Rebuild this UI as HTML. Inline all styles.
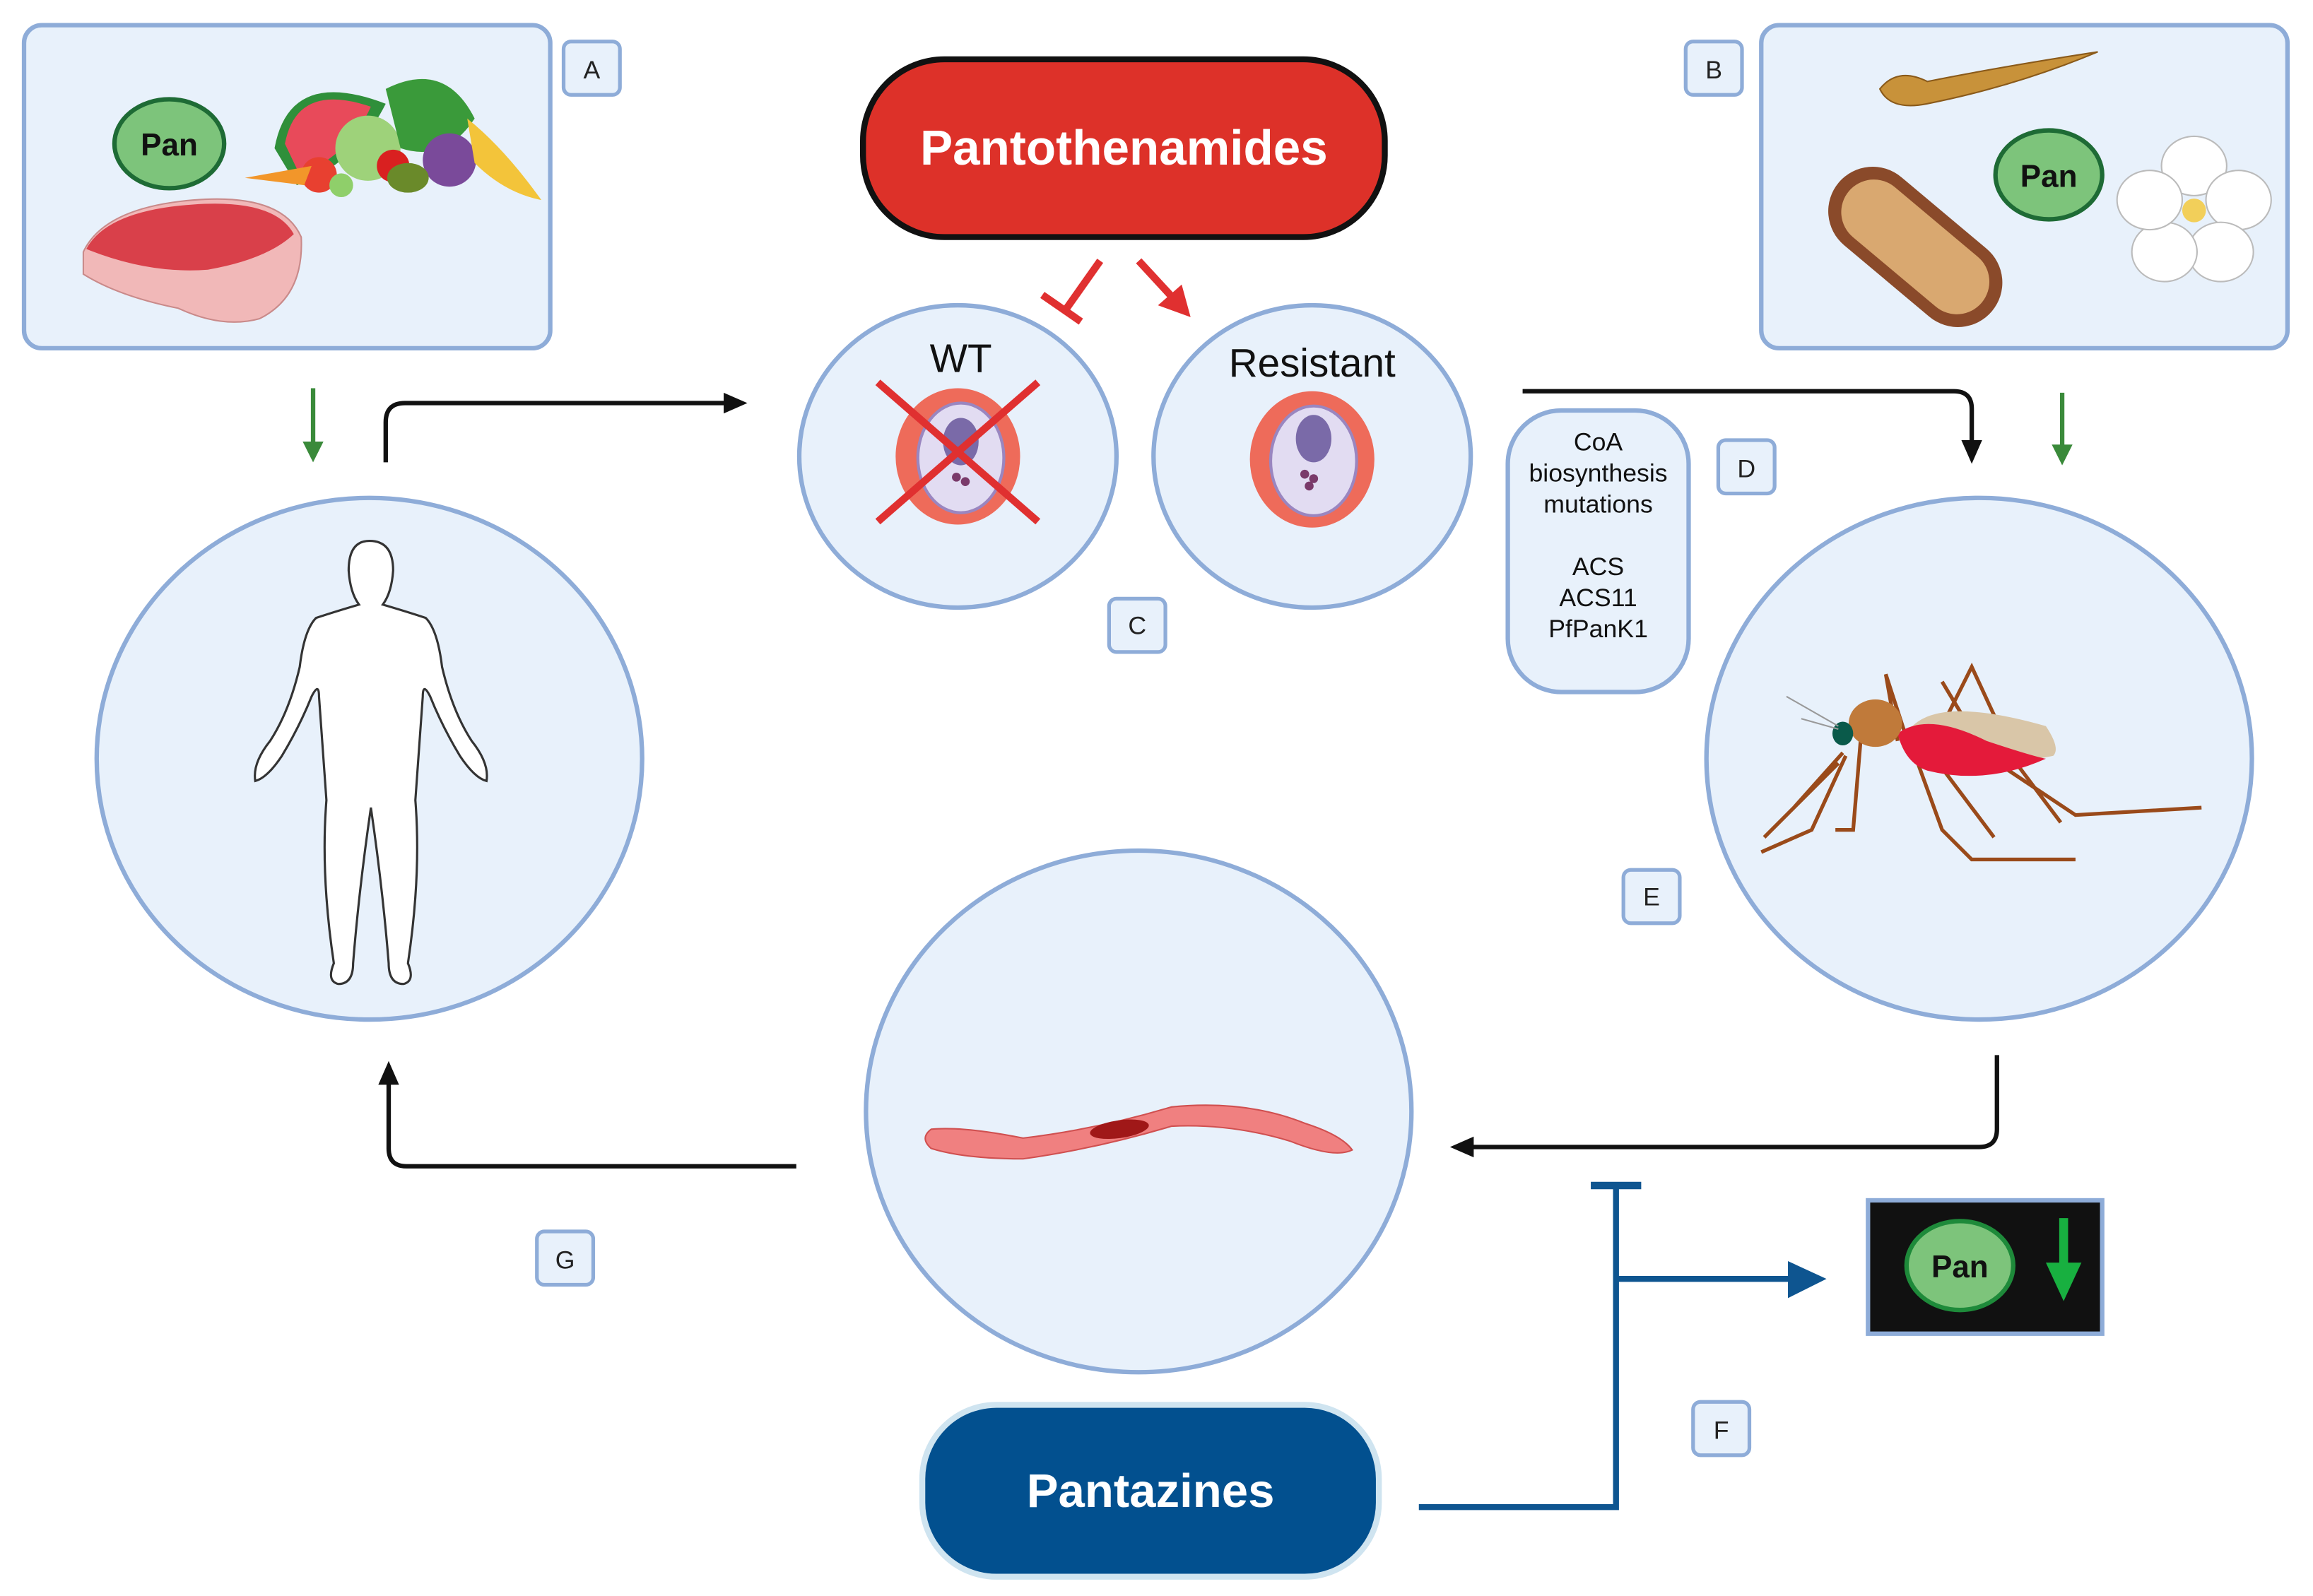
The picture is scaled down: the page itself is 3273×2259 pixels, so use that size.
<!DOCTYPE html>
<html><head><meta charset="utf-8"><style>
html,body{margin:0;padding:0;background:#fff}
svg{display:block}
text{font-family:"Liberation Sans",sans-serif}
</style></head><body>
<svg width="3273" height="2259" viewBox="0 0 1560 1077" xmlns="http://www.w3.org/2000/svg">
<defs>
<marker id="ak" markerWidth="10" markerHeight="10" refX="8" refY="5" orient="auto" markerUnits="userSpaceOnUse"><path d="M0,0 L16,5 L0,10 Z" fill="#111" transform="scale(0.6,1)"/></marker>
</defs>
<rect width="1560" height="1077" fill="#fff"/>

<!-- Box A -->
<rect x="16" y="17" width="355" height="218" rx="12" fill="#e8f1fb" stroke="#8eacd8" stroke-width="3"/>
<ellipse cx="114" cy="97" rx="37" ry="30" fill="#7dc47b" stroke="#1e6b35" stroke-width="3"/>
<text x="114" y="105" font-size="21" font-weight="bold" text-anchor="middle" fill="#111">Pan</text>
<!-- meat -->
<path d="M56,170 Q70,140 130,135 Q190,130 203,160 Q205,200 175,215 Q150,222 120,208 Q80,200 56,185 Z" fill="#f1b8b8" stroke="#c98a8a"/>
<path d="M58,168 Q72,142 130,138 Q185,134 198,158 Q180,175 140,182 Q100,185 58,168 Z" fill="#d9404a"/>
<!-- fruits -->
<path d="M185,100 Q195,45 260,70 Q240,110 200,125 Z" fill="#2f8f3a"/>
<path d="M192,97 Q200,55 250,72 Q235,105 202,118 Z" fill="#e84a5a"/>
<circle cx="248" cy="100" r="22" fill="#9ed27a"/>
<path d="M260,60 Q300,40 320,80 Q300,110 270,100 Z" fill="#3a9a3a"/>
<circle cx="303" cy="108" r="18" fill="#7a4a9a"/>
<path d="M315,80 Q340,100 365,135 Q340,130 320,110 Z" fill="#f3c43a"/>
<circle cx="215" cy="118" r="12" fill="#e84030"/>
<circle cx="265" cy="112" r="11" fill="#d92020"/>
<ellipse cx="275" cy="120" rx="14" ry="10" fill="#6a8a2a"/>
<circle cx="230" cy="125" r="8" fill="#8fcf6a"/>
<path d="M165,120 L210,112 L205,125 Z" fill="#f2962a"/>
<rect x="380" y="28" width="38" height="36" rx="5" fill="#e8f1fb" stroke="#8eacd8" stroke-width="2.5"/>
<text x="399" y="53" font-size="17" text-anchor="middle" fill="#222">A</text>

<!-- Box B -->
<rect x="1188" y="17" width="355" height="218" rx="12" fill="#e8f1fb" stroke="#8eacd8" stroke-width="3"/>
<rect x="1137" y="28" width="38" height="36" rx="5" fill="#e8f1fb" stroke="#8eacd8" stroke-width="2.5"/>
<text x="1156" y="53" font-size="17" text-anchor="middle" fill="#222">B</text>
<path d="M1268,60 Q1280,45 1300,55 Q1350,45 1415,35 Q1360,58 1300,70 Q1275,75 1268,60 Z" fill="#c8923a" stroke="#8a5a1a"/>
<g transform="rotate(40 1290 165)">
<rect x="1225" y="135" width="135" height="60" rx="30" fill="#8a4a2a"/>
<rect x="1234" y="143" width="117" height="44" rx="22" fill="#d9a870"/>
</g>
<ellipse cx="1382" cy="118" rx="36" ry="30" fill="#7dc47b" stroke="#1e6b35" stroke-width="3"/>
<text x="1382" y="126" font-size="21" font-weight="bold" text-anchor="middle" fill="#111">Pan</text>
<g fill="#fff" stroke="#bbb">
<ellipse cx="1480" cy="112" rx="22" ry="20"/><ellipse cx="1510" cy="135" rx="22" ry="20"/><ellipse cx="1498" cy="170" rx="22" ry="20"/><ellipse cx="1460" cy="170" rx="22" ry="20"/><ellipse cx="1450" cy="135" rx="22" ry="20"/>
</g>
<circle cx="1480" cy="142" r="8" fill="#f2cf5a"/>

<!-- Pantothenamides -->
<rect x="582" y="40" width="352" height="120" rx="55" fill="#dd3129" stroke="#111" stroke-width="4"/>
<text x="758" y="111" font-size="33" font-weight="bold" text-anchor="middle" fill="#fff">Pantothenamides</text>
<!-- inhibit / activate -->
<line x1="742" y1="176" x2="718" y2="210" stroke="#e03030" stroke-width="5"/>
<line x1="703" y1="199" x2="729" y2="217" stroke="#e03030" stroke-width="5"/>
<line x1="768" y1="176" x2="792" y2="202" stroke="#e03030" stroke-width="5"/>
<path d="M803,214 L781,206 L797,192 Z" fill="#e03030"/>

<!-- WT / Resistant -->
<ellipse cx="646" cy="308" rx="107" ry="102" fill="#e8f1fb" stroke="#8eacd8" stroke-width="3"/>
<ellipse cx="885" cy="308" rx="107" ry="102" fill="#e8f1fb" stroke="#8eacd8" stroke-width="3"/>
<text x="648" y="251" font-size="27" text-anchor="middle" fill="#111">WT</text>
<text x="885" y="254" font-size="27" text-anchor="middle" fill="#111">Resistant</text>
<g>
<ellipse cx="646" cy="308" rx="42" ry="46" fill="#ee6b5a"/>
<ellipse cx="648" cy="309" rx="29" ry="37" fill="#e2dcf2" stroke="#9a86c0" stroke-width="2"/>
<ellipse cx="648" cy="298" rx="12" ry="16" fill="#7a6aa8"/>
<circle cx="645" cy="322" r="3" fill="#7a3a6a"/><circle cx="651" cy="325" r="3" fill="#7a3a6a"/>
</g>
<g>
<ellipse cx="885" cy="310" rx="42" ry="46" fill="#ee6b5a"/>
<ellipse cx="886" cy="311" rx="29" ry="37" fill="#e2dcf2" stroke="#9a86c0" stroke-width="2"/>
<ellipse cx="886" cy="296" rx="12" ry="16" fill="#7a6aa8"/>
<circle cx="880" cy="320" r="3" fill="#7a3a6a"/><circle cx="886" cy="323" r="3" fill="#7a3a6a"/><circle cx="883" cy="328" r="3" fill="#7a3a6a"/>
</g>
<line x1="592" y1="258" x2="700" y2="352" stroke="#e03030" stroke-width="5"/>
<line x1="700" y1="258" x2="592" y2="352" stroke="#e03030" stroke-width="5"/>
<rect x="748" y="404" width="38" height="36" rx="5" fill="#e8f1fb" stroke="#8eacd8" stroke-width="2.5"/>
<text x="767" y="428" font-size="17" text-anchor="middle" fill="#222">C</text>

<!-- D box -->
<rect x="1017" y="277" width="122" height="190" rx="36" fill="#e8f1fb" stroke="#8eacd8" stroke-width="3"/>
<g font-size="17" text-anchor="middle" fill="#111">
<text x="1078" y="304">CoA</text>
<text x="1078" y="325">biosynthesis</text>
<text x="1078" y="346">mutations</text>
<text x="1078" y="388">ACS</text>
<text x="1078" y="409">ACS11</text>
<text x="1078" y="430">PfPanK1</text>
</g>
<rect x="1159" y="297" width="38" height="36" rx="5" fill="#e8f1fb" stroke="#8eacd8" stroke-width="2.5"/>
<text x="1178" y="322" font-size="17" text-anchor="middle" fill="#222">D</text>

<!-- Human circle -->
<ellipse cx="249" cy="512" rx="184" ry="176" fill="#e8f1fb" stroke="#8eacd8" stroke-width="3"/>
<path d="M249,365 Q265,365 265,385 Q264,400 258,408 Q275,413 287,417 Q295,425 298,450 Q305,480 318,500 Q330,515 328,527 Q320,525 310,510 Q298,490 290,470 Q285,460 285,470 Q282,510 280,540 Q284,590 275,650 Q280,662 272,664 Q262,664 262,650 Q258,600 250,545 Q242,600 238,650 Q238,664 228,664 Q220,662 225,650 Q216,590 220,540 Q218,510 215,470 Q215,460 210,470 Q202,490 190,510 Q180,525 172,527 Q170,515 182,500 Q195,480 202,450 Q205,425 213,417 Q225,413 242,408 Q236,400 235,385 Q235,365 249,365 Z" fill="#fff" stroke="#333" stroke-width="1.5"/>

<!-- Mosquito circle -->
<ellipse cx="1335" cy="512" rx="184" ry="176" fill="#e8f1fb" stroke="#8eacd8" stroke-width="3"/>
<g stroke="#9a4a1a" stroke-width="2.5" fill="none">
<path d="M1243,508 L1210,545 M1240,515 L1190,565 M1245,510 L1222,560 L1188,575"/>
<path d="M1255,500 L1250,560 L1238,560"/>
<path d="M1280,500 L1272,455 L1285,495"/>
<path d="M1290,505 L1310,560 L1330,580 L1400,580"/>
<path d="M1300,510 L1330,450 L1360,515 L1390,555"/>
<path d="M1310,460 L1340,510 L1400,550 L1485,545"/>
<path d="M1300,505 L1345,565"/>
</g>
<path d="M1290,490 Q1310,470 1380,490 Q1390,505 1385,510 Q1340,520 1300,505 Z" fill="#d9c6a8"/>
<path d="M1280,495 Q1300,480 1340,500 Q1370,510 1380,512 Q1340,530 1300,520 Q1285,515 1280,495 Z" fill="#e41a3a"/>
<ellipse cx="1265" cy="488" rx="18" ry="16" fill="#c07a3a"/>
<ellipse cx="1243" cy="495" rx="7" ry="8" fill="#0a5a4a"/>
<path d="M1240,490 L1205,470 M1240,492 L1215,485" stroke="#999" stroke-width="1"/>
<rect x="1095" y="587" width="38" height="36" rx="5" fill="#e8f1fb" stroke="#8eacd8" stroke-width="2.5"/>
<text x="1114" y="611" font-size="17" text-anchor="middle" fill="#222">E</text>

<!-- Parasite circle -->
<ellipse cx="768" cy="750" rx="184" ry="176" fill="#e8f1fb" stroke="#8eacd8" stroke-width="3"/>
<path d="M628,762 Q650,760 690,768 Q740,762 790,747 Q840,742 880,758 Q905,766 912,776 Q900,782 870,770 Q830,758 790,760 Q740,775 690,782 Q650,782 628,775 Q620,768 628,762 Z" fill="#f08080" stroke="#d05050"/>
<ellipse cx="755" cy="762" rx="20" ry="6" fill="#a01818" transform="rotate(-8 755 762)"/>
<rect x="362" y="831" width="38" height="36" rx="5" fill="#e8f1fb" stroke="#8eacd8" stroke-width="2.5"/>
<text x="381" y="856" font-size="17" text-anchor="middle" fill="#222">G</text>

<!-- green arrows -->
<line x1="211" y1="262" x2="211" y2="300" stroke="#3a8a3a" stroke-width="3"/>
<path d="M204,298 L211,312 L218,298 Z" fill="#3a8a3a"/>
<line x1="1391" y1="265" x2="1391" y2="302" stroke="#3a8a3a" stroke-width="3"/>
<path d="M1384,300 L1391,314 L1398,300 Z" fill="#3a8a3a"/>

<!-- black connectors -->
<path d="M260,312 L260,285 Q260,272 273,272 L492,272" stroke="#111" stroke-width="3" fill="none"/>
<path d="M488,265 L504,272 L488,279 Z" fill="#111"/>
<path d="M1027,264 L1318,264 Q1330,264 1330,276 L1330,300" stroke="#111" stroke-width="3" fill="none"/>
<path d="M1323,297 L1330,313 L1337,297 Z" fill="#111"/>
<path d="M1347,712 L1347,762 Q1347,774 1335,774 L992,774" stroke="#111" stroke-width="3" fill="none"/>
<path d="M994,767 L978,774 L994,781 Z" fill="#111"/>
<path d="M537,787 L274,787 Q262,787 262,775 L262,730" stroke="#111" stroke-width="3" fill="none"/>
<path d="M255,732 L262,716 L269,732 Z" fill="#111"/>

<!-- Pantazines -->
<rect x="622" y="948" width="308" height="116" rx="50" fill="#02508f" stroke="#cfe4f0" stroke-width="4"/>
<text x="776" y="1017" font-size="32" font-weight="bold" text-anchor="middle" fill="#fff">Pantazines</text>
<path d="M957,1017 L1090,1017 L1090,800" stroke="#0e5590" stroke-width="4" fill="none"/>
<line x1="1073" y1="800" x2="1107" y2="800" stroke="#0e5590" stroke-width="5"/>
<line x1="1090" y1="863" x2="1210" y2="863" stroke="#0e5590" stroke-width="4"/>
<path d="M1206,851 L1232,863 L1206,876 Z" fill="#0e5590"/>
<rect x="1142" y="946" width="38" height="36" rx="5" fill="#e8f1fb" stroke="#8eacd8" stroke-width="2.5"/>
<text x="1161" y="971" font-size="17" text-anchor="middle" fill="#222">F</text>

<!-- Pan down box -->
<rect x="1260" y="810" width="158" height="90" fill="#111" stroke="#8eacd8" stroke-width="3"/>
<ellipse cx="1322" cy="854" rx="36" ry="30" fill="#7dc47b" stroke="#1e8a3a" stroke-width="3"/>
<text x="1322" y="862" font-size="21" font-weight="bold" text-anchor="middle" fill="#111">Pan</text>
<line x1="1392" y1="822" x2="1392" y2="858" stroke="#18b040" stroke-width="6"/>
<path d="M1380,852 L1392,878 L1404,852 Z" fill="#18b040"/>
</svg>
</body></html>
